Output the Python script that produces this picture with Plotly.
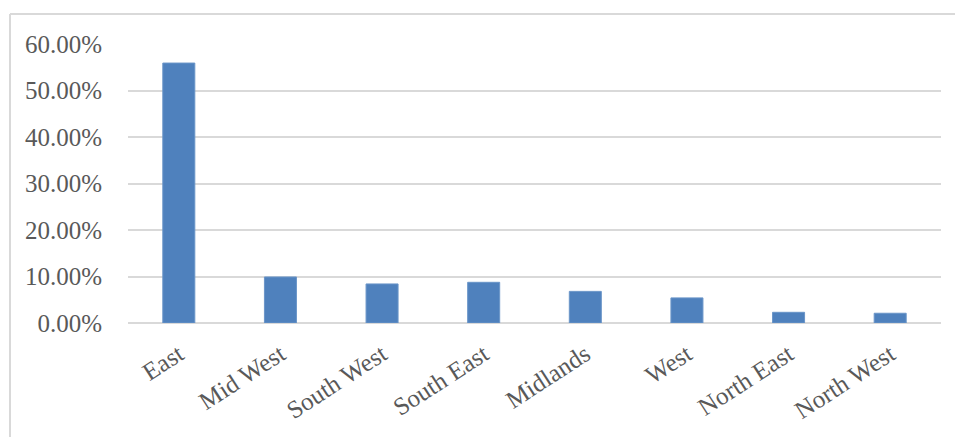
import plotly.graph_objects as go

categories = ["East", "Mid West", "South West", "South East", "Midlands", "West", "North East", "North West"]
values = [0.559, 0.099, 0.084, 0.0875, 0.068, 0.054, 0.023, 0.021]
tick_vals = [0, 0.1, 0.2, 0.3, 0.4, 0.5, 0.6]
tick_text = ["0.00%", "10.00%", "20.00%", "30.00%", "40.00%", "50.00%", "60.00%"]

W, H = 955, 437
L, R, T, B = 128, 14, 44, 114
pw, ph = W - L - R, H - T - B

fig = go.Figure(go.Bar(
    x=categories, y=values,
    marker=dict(color="#4f81bd", line=dict(color="#6a95c8", width=1)),
))

font = dict(family="Liberation Serif", size=25, color="#595959")
fig.update_layout(
    width=W, height=H,
    margin=dict(l=L, r=R, t=T, b=B, pad=0),
    paper_bgcolor="white", plot_bgcolor="white",
    bargap=0.685,
    showlegend=False,
    font=font,
    xaxis=dict(tickangle=-33, tickfont=font, showgrid=False, showline=False,
               ticks="outside", ticklen=6, tickcolor="rgba(0,0,0,0)", automargin=False),
    yaxis=dict(range=[0, 0.6], tickvals=tick_vals, ticktext=tick_text, tickfont=font,
               showgrid=True, gridcolor="#d9d9d9", gridwidth=1.5,
               zeroline=True, zerolinecolor="#d9d9d9", zerolinewidth=1.5,
               ticks="outside", ticklen=20, tickcolor="rgba(0,0,0,0)", automargin=False),
)

x0 = (10 - L) / pw
x1 = (W + 5 - L) / pw
y_top = 1 + (T - 14) / ph
y_bot = -(B + 5) / ph
fig.add_shape(type="line", xref="paper", yref="paper", x0=x0, x1=x1, y0=y_top, y1=y_top,
              line=dict(color="#d9d9d9", width=2))
fig.add_shape(type="line", xref="paper", yref="paper", x0=x0, x1=x0, y0=y_top, y1=y_bot,
              line=dict(color="#d9d9d9", width=2))

fig.write_html("out.html", config={"displayModeBar": False},
               post_script="document.body.style.margin='0';document.body.style.overflow='hidden';")
